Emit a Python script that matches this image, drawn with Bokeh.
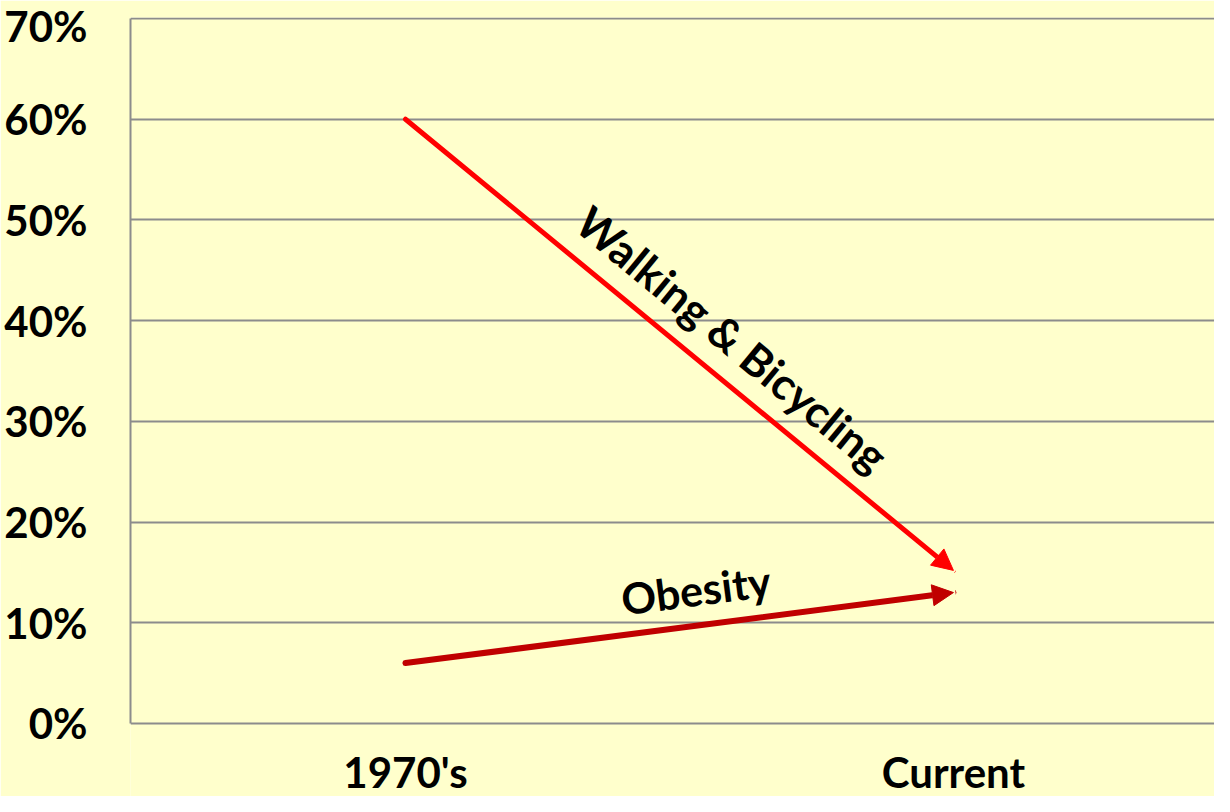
import math
from bokeh.plotting import figure
from bokeh.models import (Range1d, FixedTicker, PrintfTickFormatter, Arrow, NormalHead,
                          ColumnDataSource, Label)
from bokeh.embed import file_html
from bokeh.resources import INLINE

# ---- data ----
categories = ["1970's", "Current"]
walking_bicycling = [60, 15.2]
obesity = [6, 13]
y_ticks = [0, 10, 20, 30, 40, 50, 60, 70]

BG = "#FFFFCC"
GRID = "#8C8C8C"
FONT = "Lato"
X_START, X_END = -0.5018, 1.4764
Y_START, Y_END = -7.25, 70.1

p = figure(width=1214, height=796, output_backend="svg", toolbar_location=None,
           x_range=Range1d(X_START, X_END), y_range=Range1d(Y_START, Y_END),
           min_border_left=130, min_border_top=17, min_border_bottom=0, min_border_right=0)
p.background_fill_color = BG
p.border_fill_color = BG
p.outline_line_color = None

# y axis
p.yaxis.bounds = (0, 70)
p.yaxis.ticker = FixedTicker(ticks=y_ticks)
p.yaxis.formatter = PrintfTickFormatter(format="%d%%")
p.yaxis.axis_line_color = GRID
p.yaxis.axis_line_width = 2
p.yaxis.major_tick_line_color = None
p.yaxis.minor_tick_line_color = None
p.yaxis.major_label_standoff = 37
p.yaxis.major_label_text_font = FONT
p.yaxis.major_label_text_font_style = "bold"
p.yaxis.major_label_text_font_size = "42px"
p.yaxis.major_label_text_color = "black"

# x axis (drawn at y=0 inside the extended frame)
p.xaxis.fixed_location = 0
p.xaxis.ticker = FixedTicker(ticks=list(range(len(categories))))
p.xaxis.major_label_overrides = {i: c for i, c in enumerate(categories)}
p.xaxis.axis_line_color = None
p.xaxis.major_tick_line_color = None
p.xaxis.minor_tick_line_color = None
p.xaxis.major_label_standoff = 18
p.xaxis.major_label_text_font = FONT
p.xaxis.major_label_text_font_style = "bold"
p.xaxis.major_label_text_font_size = "42px"
p.xaxis.major_label_text_color = "black"

p.xgrid.grid_line_color = None
p.ygrid.ticker = FixedTicker(ticks=y_ticks)
p.ygrid.grid_line_color = GRID
p.ygrid.grid_line_width = 2

# arrows
def add_arrow(vals, color, width):
    src = ColumnDataSource(dict(x0=[0], y0=[vals[0]], x1=[1], y1=[vals[1]]))
    p.add_layout(Arrow(end=NormalHead(size=21, fill_color=color, fill_alpha=1.0,
                                      line_color=color, line_width=1),
                       x_start="x0", y_start="y0", x_end="x1", y_end="y1", source=src,
                       line_color=color, line_width=width, line_cap="round"))

add_arrow(walking_bicycling, "#FF0000", 5)
add_arrow(obesity, "#C00000", 6)

p.add_layout(Label(x=0.597, y=38.2, text="Walking & Bicycling", angle=math.radians(-39.5),
                   text_align="center", text_baseline="middle", text_font=FONT,
                   text_font_style="bold", text_font_size="44px", text_color="black"))
p.add_layout(Label(x=0.53, y=13.3, text="Obesity", angle=math.radians(7.4),
                   text_align="center", text_baseline="middle", text_font=FONT,
                   text_font_style="bold", text_font_size="43px", text_color="black"))

open("out.html", "w").write(file_html(p, INLINE))
